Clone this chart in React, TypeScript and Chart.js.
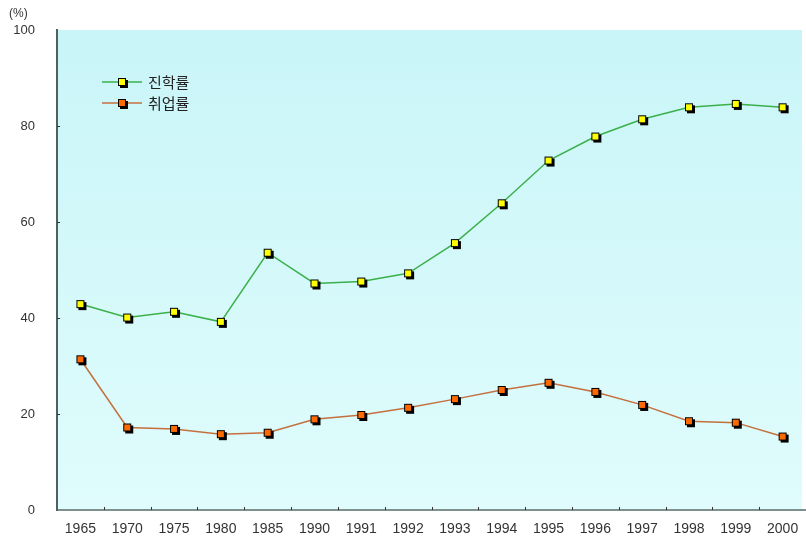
import React, { useEffect, useRef } from "react";
import { Chart, registerables } from "chart.js";

Chart.register(...registerables);

const years = ["1965", "1970", "1975", "1980", "1985", "1990", "1991", "1992", "1993", "1994", "1995", "1996", "1997", "1998", "1999", "2000"];
const advanceRate = [42.9, 40.1, 41.3, 39.2, 53.6, 47.2, 47.6, 49.3, 55.6, 63.9, 72.8, 77.8, 81.4, 83.9, 84.6, 83.9];
const employRate = [31.4, 17.2, 16.9, 15.8, 16.1, 18.9, 19.8, 21.3, 23.1, 25.0, 26.5, 24.6, 21.9, 18.5, 18.2, 15.3];
const seriesNames = ["진학률", "취업률"];
const yTicks = [0, 20, 40, 60, 80, 100];

function makeMarker(fill: string): HTMLCanvasElement {
  const c = document.createElement("canvas");
  c.width = 14;
  c.height = 14;
  const g = c.getContext("2d")!;
  g.fillStyle = "#000";
  g.fillRect(5, 5, 8, 8);
  g.fillStyle = fill;
  g.fillRect(3, 3, 8, 8);
  g.strokeStyle = "#000";
  g.lineWidth = 1;
  g.strokeRect(3.5, 3.5, 7, 7);
  return c;
}

export default function App() {
  const ref = useRef<HTMLCanvasElement | null>(null);

  useEffect(() => {
    const yellow = makeMarker("#ffff00");
    const orange = makeMarker("#ff6a00");
    const markers = [yellow, orange];
    const lineColors = ["#3bb04a", "#c4703e"];

    const bgPlugin = {
      id: "bg",
      beforeDraw(chart: any) {
        const { ctx, chartArea } = chart;
        const grad = ctx.createLinearGradient(0, chartArea.top, 0, chartArea.bottom);
        grad.addColorStop(0, "#c9f5f8");
        grad.addColorStop(1, "#e0fcfc");
        ctx.save();
        ctx.fillStyle = grad;
        const right = Math.min(chartArea.right, 802);
        ctx.fillRect(chartArea.left, chartArea.top, right - chartArea.left, chartArea.bottom - chartArea.top);
        ctx.restore();
      },
    };

    const extrasPlugin = {
      id: "extras",
      afterDraw(chart: any) {
        const { ctx, chartArea, scales } = chart;
        ctx.save();
        ctx.strokeStyle = "#333";
        ctx.lineWidth = 1;
        yTicks.forEach((v) => {
          if (v === 0 || v === 100) return;
          const y = Math.round(scales.y.getPixelForValue(v)) + 0.5;
          ctx.beginPath();
          ctx.moveTo(chartArea.left, y);
          ctx.lineTo(chartArea.left + 3, y);
          ctx.stroke();
        });
        for (let i = 0; i < years.length - 1; i++) {
          const x = Math.round((scales.x.getPixelForValue(i) + scales.x.getPixelForValue(i + 1)) / 2) + 0.5;
          ctx.beginPath();
          ctx.moveTo(x, chartArea.bottom);
          ctx.lineTo(x, chartArea.bottom - 3);
          ctx.stroke();
        }
        ctx.fillStyle = "#333";
        ctx.font = "12px 'Liberation Sans', Arial, sans-serif";
        ctx.textAlign = "left";
        ctx.textBaseline = "middle";
        ctx.fillText("(%)", 9, 14);
        const rows = [82, 103];
        seriesNames.forEach((name, i) => {
          const y = rows[i];
          ctx.strokeStyle = lineColors[i];
          ctx.lineWidth = 1.5;
          ctx.beginPath();
          ctx.moveTo(102, y);
          ctx.lineTo(142, y);
          ctx.stroke();
          ctx.drawImage(markers[i], 122 - 7, y - 7);
          ctx.fillStyle = "#222";
          ctx.font = "15px 'Noto Sans CJK KR', sans-serif";
          ctx.textAlign = "left";
          ctx.textBaseline = "middle";
          ctx.fillText(name, 148, y);
        });
        ctx.restore();
      },
    };

    const chart = new Chart(ref.current!, {
      type: "line",
      data: {
        labels: years,
        datasets: [
          {
            label: seriesNames[0],
            data: advanceRate,
            borderColor: lineColors[0],
            borderWidth: 1.5,
            pointStyle: yellow,
            pointRadius: 7,
            tension: 0,
          },
          {
            label: seriesNames[1],
            data: employRate,
            borderColor: lineColors[1],
            borderWidth: 1.5,
            pointStyle: orange,
            pointRadius: 7,
            tension: 0,
          },
        ],
      },
      options: {
        animation: false,
        responsive: false,
        maintainAspectRatio: false,
        layout: { autoPadding: false, padding: { top: 30, right: 0, left: 0, bottom: 0 } },
        plugins: {
          legend: { display: false },
          tooltip: { enabled: false },
        },
        scales: {
          x: {
            type: "category",
            offset: true,
            grid: {
              display: true,
              drawOnChartArea: false,
              drawTicks: true,
              tickLength: 11,
              tickColor: "rgba(0,0,0,0)",
            },
            border: { display: true, color: "#7f9090", width: 2 },
            ticks: {
              color: "#333",
              font: { size: 14, family: "'Liberation Sans', Arial, sans-serif" },
              padding: 0,
              maxRotation: 0,
              autoSkip: false,
            },
            afterFit(scale: any) {
              scale.height = 38;
            },
          },
          y: {
            min: 0,
            max: 100,
            grid: { display: false, drawTicks: false },
            border: { display: true, color: "#506060", width: 2 },
            ticks: {
              stepSize: 20,
              color: "#333",
              font: { size: 13, family: "'Liberation Sans', Arial, sans-serif" },
              padding: 22,
            },
            afterFit(scale: any) {
              scale.width = 57;
            },
          },
        },
      },
      plugins: [bgPlugin, extrasPlugin],
    } as any);
    return () => chart.destroy();
  }, []);

  return (
    <div style={{ position: "absolute", left: 0, top: 0, width: 806, height: 548, background: "#fff" }}>
      <canvas ref={ref} width={806} height={548} style={{ display: "block" }} />
    </div>
  );
}
